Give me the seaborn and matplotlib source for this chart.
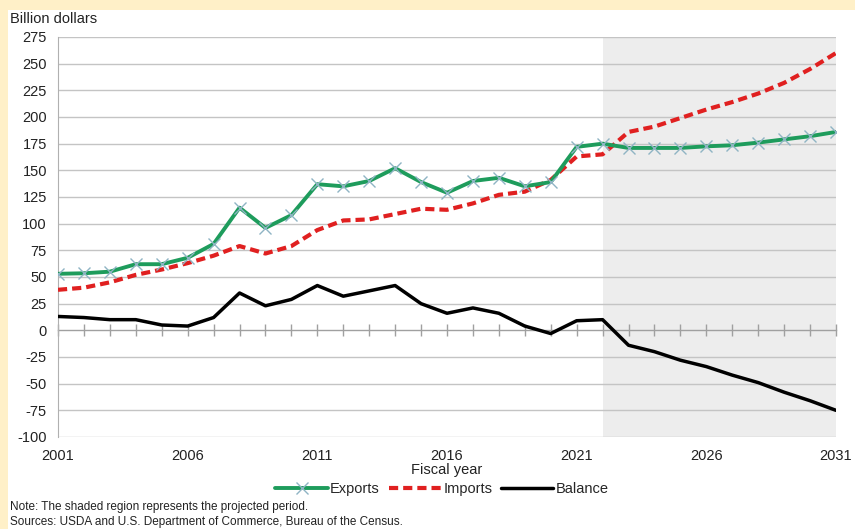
import matplotlib
matplotlib.use("Agg")
import matplotlib.pyplot as plt
from matplotlib.patches import Rectangle
import pandas as pd
import seaborn as sns

# Fiscal years and values (billion dollars)
years = list(range(2001, 2032))
exports = [53, 53.5, 55, 62, 62, 68, 81, 115, 96, 108,
           137, 135, 140, 152, 139, 129, 140, 143, 135, 139,
           172, 175, 171, 171, 171, 172.5, 173.5, 176, 179, 182, 186]
imports = [38, 40, 45, 52, 57, 63, 70, 79, 72, 79,
           94, 103, 104, 109, 114, 113, 119, 127, 130, 141,
           163, 165, 186, 191, 199, 207, 214, 222, 232, 245, 260]
balance = [13, 12, 10, 10, 5, 4, 12, 35, 23, 29,
           42, 32, 37, 42, 25, 16, 21, 16, 4, -3,
           9, 10, -14, -20, -28, -34, -42, -49, -58, -66, -75]
projection_start = 2022
y_ticks = list(range(-100, 276, 25))
x_label_ticks = list(range(2001, 2032, 5))

df = pd.DataFrame({"year": years, "Exports": exports,
                   "Imports": imports, "Balance": balance})

sns.set_style("white")
plt.rcParams["font.family"] = ["Liberation Sans", "DejaVu Sans"]
plt.rcParams["axes.unicode_minus"] = False

fig = plt.figure(figsize=(8.55, 5.29), dpi=100)
fig.patch.set_facecolor("#FFF0C8")
# white panel inside the beige frame
fig.patches.append(Rectangle((8 / 855, 0), 1, 1 - 10 / 529, transform=fig.transFigure,
                             facecolor="white", edgecolor="none", zorder=-1))

ax = fig.add_axes([58 / 855, 1 - 437 / 529, (836 - 58) / 855, 400 / 529])
ax.set_facecolor("white")

# projected period
ax.axvspan(projection_start, years[-1], color="#EDEDED", lw=0, zorder=0)

# gridlines
for t in y_ticks:
    if t != 0:
        ax.axhline(t, color="#C4C4C4", lw=1, zorder=1)

sns.lineplot(data=df, x="year", y="Exports", ax=ax, color="#1E9C5C", lw=2.8,
             marker="x", markersize=8, markeredgecolor="#8FB4C4", markeredgewidth=1,
             zorder=4, label="Exports")
sns.lineplot(data=df, x="year", y="Imports", ax=ax, color="#E02020", lw=3,
             linestyle=(0, (2.2, 1.2)), zorder=3, label="Imports")
sns.lineplot(data=df, x="year", y="Balance", ax=ax, color="black", lw=2.5,
             zorder=3, label="Balance")

ax.set_xlim(years[0], years[-1])
ax.set_ylim(-100, 275)
ax.set_yticks(y_ticks)
ax.set_ylabel("")
ax.set_xlabel("")
ax.tick_params(axis="y", left=False, length=0, pad=8, labelsize=10.5, labelcolor="#222222")

# zero axis with yearly tick marks
for s in ["top", "right"]:
    ax.spines[s].set_visible(False)
ax.spines["bottom"].set_position(("data", 0))
ax.spines["bottom"].set_color("#A0A0A0")
ax.spines["bottom"].set_linewidth(1)
ax.spines["bottom"].set_zorder(2)
ax.spines["left"].set_color("#B0B0B0")
ax.set_xticks(years)
ax.tick_params(axis="x", bottom=True, direction="inout", length=9, width=1,
               color="#A0A0A0", labelbottom=False)

# year labels at the bottom
sec = ax.secondary_xaxis("bottom")
sec.set_xticks(x_label_ticks)
sec.tick_params(length=0, pad=9, labelsize=10.5, labelcolor="#222222")
sec.spines["bottom"].set_visible(False)

ax.get_legend().remove()
handles, labels = ax.get_legend_handles_labels()
fig.legend(handles, labels, loc="center", bbox_to_anchor=(442 / 855, 1 - 489 / 529),
           ncol=3, frameon=False, fontsize=10.5, handlelength=3.6,
           handletextpad=0.15, columnspacing=0.6, borderaxespad=0)

fig.text(447 / 855, 1 - 470 / 529, "Fiscal year", ha="center", va="center",
         fontsize=10.5, color="#222222")
fig.text(10 / 855, 1 - 19 / 529, "Billion dollars", ha="left", va="center",
         fontsize=10.5, color="#222222")
fig.text(10 / 855, 1 - 507 / 529, "Note: The shaded region represents the projected period.",
         ha="left", va="center", fontsize=8.5, color="#222222")
fig.text(10 / 855, 1 - 522 / 529,
         "Sources: USDA and U.S. Department of Commerce, Bureau of the Census.",
         ha="left", va="center", fontsize=8.5, color="#222222")

fig.savefig("out.png", dpi=100, facecolor=fig.get_facecolor())
